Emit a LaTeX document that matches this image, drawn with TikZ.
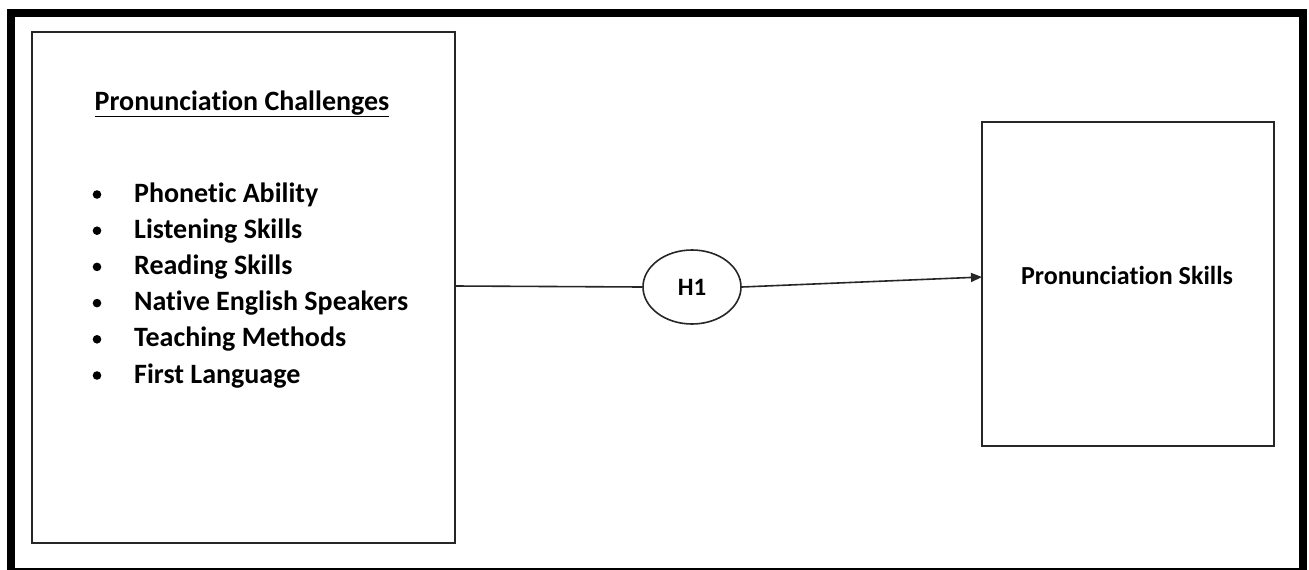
\documentclass[tikz,border=0pt]{standalone}
\usepackage{fontspec}
\setmainfont{Carlito}[Ligatures=NoCommon]
\usetikzlibrary{shapes.geometric,arrows.meta}
\begin{document}
\begin{tikzpicture}[x=1pt,y=-1pt,
  lbl/.style={font=\bfseries\fontsize{28}{32}\selectfont,inner sep=0pt,anchor=base west},
  conn/.style={draw=black!85,line width=1.6pt}]
\useasboundingbox (0,0) rectangle (1309,570);
% outer frame
\draw[line width=8pt] (11,570) -- (11,13) -- (1303,13) -- (1303,570);
\draw[line width=2pt] (7,569) -- (1307,569);
% left box
\node[draw=black!85,line width=2pt,minimum width=423pt,minimum height=511pt,inner sep=0pt] (lb) at (243.5,287.5) {};
\node[font=\bfseries\fontsize{28}{32}\selectfont,inner sep=0pt,anchor=base] (title) at (242,110) {\underline{Pronunciation Challenges}};
\foreach \t [count=\i] in {Phonetic Ability,Listening Skills,Reading Skills,Native English Speakers,Teaching Methods,First Language}{
  \pgfmathsetmacro{\yy}{202+36.2*(\i-1)}
  \node[lbl] (it\i) at (134,\yy) {\t};
  \fill (97,\yy-7.5) circle (4.3pt);
}
% right box
\node[draw=black!85,line width=2pt,minimum width=292pt,minimum height=324pt,inner sep=0pt] (rb) at (1128,284) {};
\node[font=\bfseries\fontsize{26}{30}\selectfont,inner sep=0pt,anchor=base] (rt) at (1127,284) {Pronunciation Skills};
% ellipse
\node[ellipse,draw=black!85,line width=1.6pt,minimum width=98pt,minimum height=74pt,inner sep=0pt,font=\bfseries\fontsize{25}{30}\selectfont] (h1) at (692,287) {H1};
\coordinate (a) at (455,286);
\coordinate (b) at (982,277);
\draw[conn] (a) -- (h1.west);
\draw[conn,-{Triangle[length=11pt,width=9pt]}] (h1.east) -- (b);
\end{tikzpicture}
\end{document}
